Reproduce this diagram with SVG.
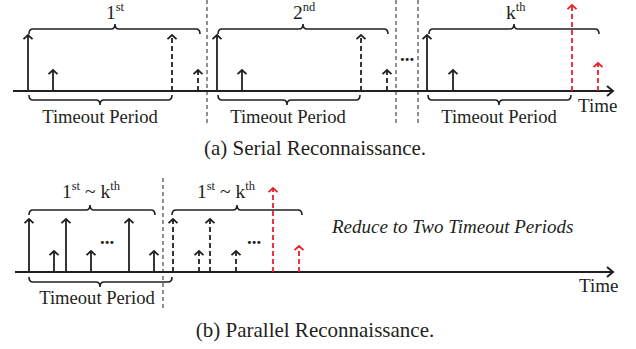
<svg xmlns="http://www.w3.org/2000/svg" width="636" height="349" viewBox="0 0 636 349">
<style>
text{font-family:"Liberation Serif","Times New Roman",serif;fill:#231f20}
.lbl{font-size:18.6px}
.cap{font-size:21px}
.ord{font-size:19.5px}
.sup{font-size:12.5px}
.it{font-size:19px;font-style:italic}
.dots{font-size:19px;font-weight:bold}
.ax{stroke:#231f20;stroke-width:1.8;fill:none}
.s{stroke:#231f20;stroke-width:1.8;fill:none;marker-end:url(#hk)}
.d{stroke:#231f20;stroke-width:1.8;fill:none;stroke-dasharray:5 3;marker-end:url(#hk)}
.r{stroke:#e8202a;stroke-width:1.8;fill:none;stroke-dasharray:5 3;marker-end:url(#hr)}
.sep{stroke:#231f20;stroke-width:1;fill:none;stroke-dasharray:4 3}
.br{stroke:#231f20;stroke-width:1.6;fill:none}
</style>
<defs>
<marker id="hk" markerUnits="userSpaceOnUse" markerWidth="12" markerHeight="12" viewBox="-6 -6 12 12" refX="0" refY="0" orient="auto" overflow="visible">
<path d="M-4.2,-4.5 L0,0 L-4.2,4.5" fill="none" stroke="#231f20" stroke-width="1.8"/>
</marker>
<marker id="hr" markerUnits="userSpaceOnUse" markerWidth="12" markerHeight="12" viewBox="-6 -6 12 12" refX="0" refY="0" orient="auto" overflow="visible">
<path d="M-4.2,-4.5 L0,0 L-4.2,4.5" fill="none" stroke="#e8202a" stroke-width="1.8"/>
</marker>
<marker id="ha" markerUnits="userSpaceOnUse" markerWidth="14" markerHeight="14" viewBox="-7 -7 14 14" refX="0" refY="0" orient="auto" overflow="visible">
<path d="M-6,-5 L0,0 L-6,5" fill="none" stroke="#231f20" stroke-width="2"/>
</marker>
</defs>

<g id="serial">
<g id="axis-a"><path class="ax" d="M13,91 H613" marker-end="url(#ha)"/><text class="lbl" x="578" y="112" style="font-size:19px">Time</text></g>
<g id="separators-a">
<path class="sep" d="M207,0 V126"/>
<path class="sep" d="M396,0 V126"/>
<path class="sep" d="M418,0 V126"/>
<text class="dots" x="400" y="61">...</text>
</g>
<g id="period-1">
<path class="br" d="M29,34 Q29,29 33,29 H111 Q115,29 115,24 Q115,29 119,29 H196 Q200,29 200,34"/>
<text class="ord" x="106" y="19">1<tspan class="sup" dy="-8">st</tspan></text>
<path class="s" d="M28,91 V35"/>
<path class="s" d="M53,91 V70"/>
<path class="d" d="M172,91 V35"/>
<path class="d" d="M198,91 V70"/>
<path class="br" d="M29,95 Q29,100 33,100 H96 Q100,100 100,105 Q100,100 104,100 H168 Q172,100 172,95"/>
<text class="lbl" x="100" y="123" text-anchor="middle">Timeout Period</text>
</g>
<g id="period-2">
<path class="br" d="M218,34 Q218,29 222,29 H299 Q303,29 303,24 Q303,29 307,29 H384 Q388,29 388,34"/>
<text class="ord" x="293" y="19">2<tspan class="sup" dy="-8">nd</tspan></text>
<path class="s" d="M217,91 V35"/>
<path class="s" d="M242,91 V70"/>
<path class="d" d="M361,91 V35"/>
<path class="d" d="M387,91 V70"/>
<path class="br" d="M218,95 Q218,100 222,100 H283 Q287,100 287,105 Q287,100 291,100 H356 Q360,100 360,95"/>
<text class="lbl" x="288" y="123" text-anchor="middle">Timeout Period</text>
</g>
<g id="period-k">
<path class="br" d="M429,34 Q429,29 433,29 H510 Q514,29 514,24 Q514,29 518,29 H595 Q599,29 599,34"/>
<text class="ord" x="506" y="19">k<tspan class="sup" dy="-8">th</tspan></text>
<path class="s" d="M427,91 V35"/>
<path class="s" d="M453,91 V70"/>
<path class="r" d="M572,91 V5"/>
<path class="r" d="M598,91 V63"/>
<path class="br" d="M428,95 Q428,100 432,100 H495 Q499,100 499,105 Q499,100 503,100 H567 Q571,100 571,95"/>
<text class="lbl" x="499" y="123" text-anchor="middle">Timeout Period</text>
</g>
<text id="caption-a" class="cap" x="315" y="155" text-anchor="middle">(a) Serial Reconnaissance.</text>
</g>

<g id="parallel">
<g id="axis-b"><path class="ax" d="M15,272 H613" marker-end="url(#ha)"/><text class="lbl" x="579" y="292" style="font-size:19px">Time</text></g>
<path id="separator-b" class="sep" d="M163,178 V310"/>
<g id="group-1">
<path class="br" d="M29,215 Q29,210 33,210 H86 Q90,210 90,205 Q90,210 94,210 H151 Q155,210 155,215"/>
<text class="ord" x="62" y="198">1<tspan class="sup" dy="-8">st</tspan><tspan dy="8"> ~ k</tspan><tspan class="sup" dy="-8">th</tspan></text>
<path class="s" d="M29,272 V219"/>
<path class="s" d="M54,272 V251"/>
<path class="s" d="M66,272 V219"/>
<path class="s" d="M91,272 V251"/>
<path class="s" d="M129,272 V219"/>
<path class="s" d="M154,272 V251"/>
<text class="dots" x="100" y="244">...</text>
<path class="br" d="M29,277 Q29,282 33,282 H96 Q100,282 100,287 Q100,282 104,282 H168 Q172,282 172,277"/>
<text class="lbl" x="97" y="304" text-anchor="middle">Timeout Period</text>
</g>
<g id="group-2">
<path class="br" d="M172,215 Q172,210 176,210 H233 Q237,210 237,205 Q237,210 241,210 H298 Q302,210 302,215"/>
<text class="ord" x="197" y="198">1<tspan class="sup" dy="-8">st</tspan><tspan dy="8"> ~ k</tspan><tspan class="sup" dy="-8">th</tspan></text>
<path class="d" d="M173,272 V219"/>
<path class="d" d="M199,272 V251"/>
<path class="d" d="M210,272 V219"/>
<path class="d" d="M236,272 V251"/>
<text class="dots" x="247" y="244">...</text>
<path class="r" d="M273,272 V188"/>
<path class="r" d="M299,272 V246"/>
</g>
<text id="note" class="it" x="332" y="233">Reduce to Two Timeout Periods</text>
<text id="caption-b" class="cap" x="315" y="337" text-anchor="middle">(b) Parallel Reconnaissance.</text>
</g>
</svg>
